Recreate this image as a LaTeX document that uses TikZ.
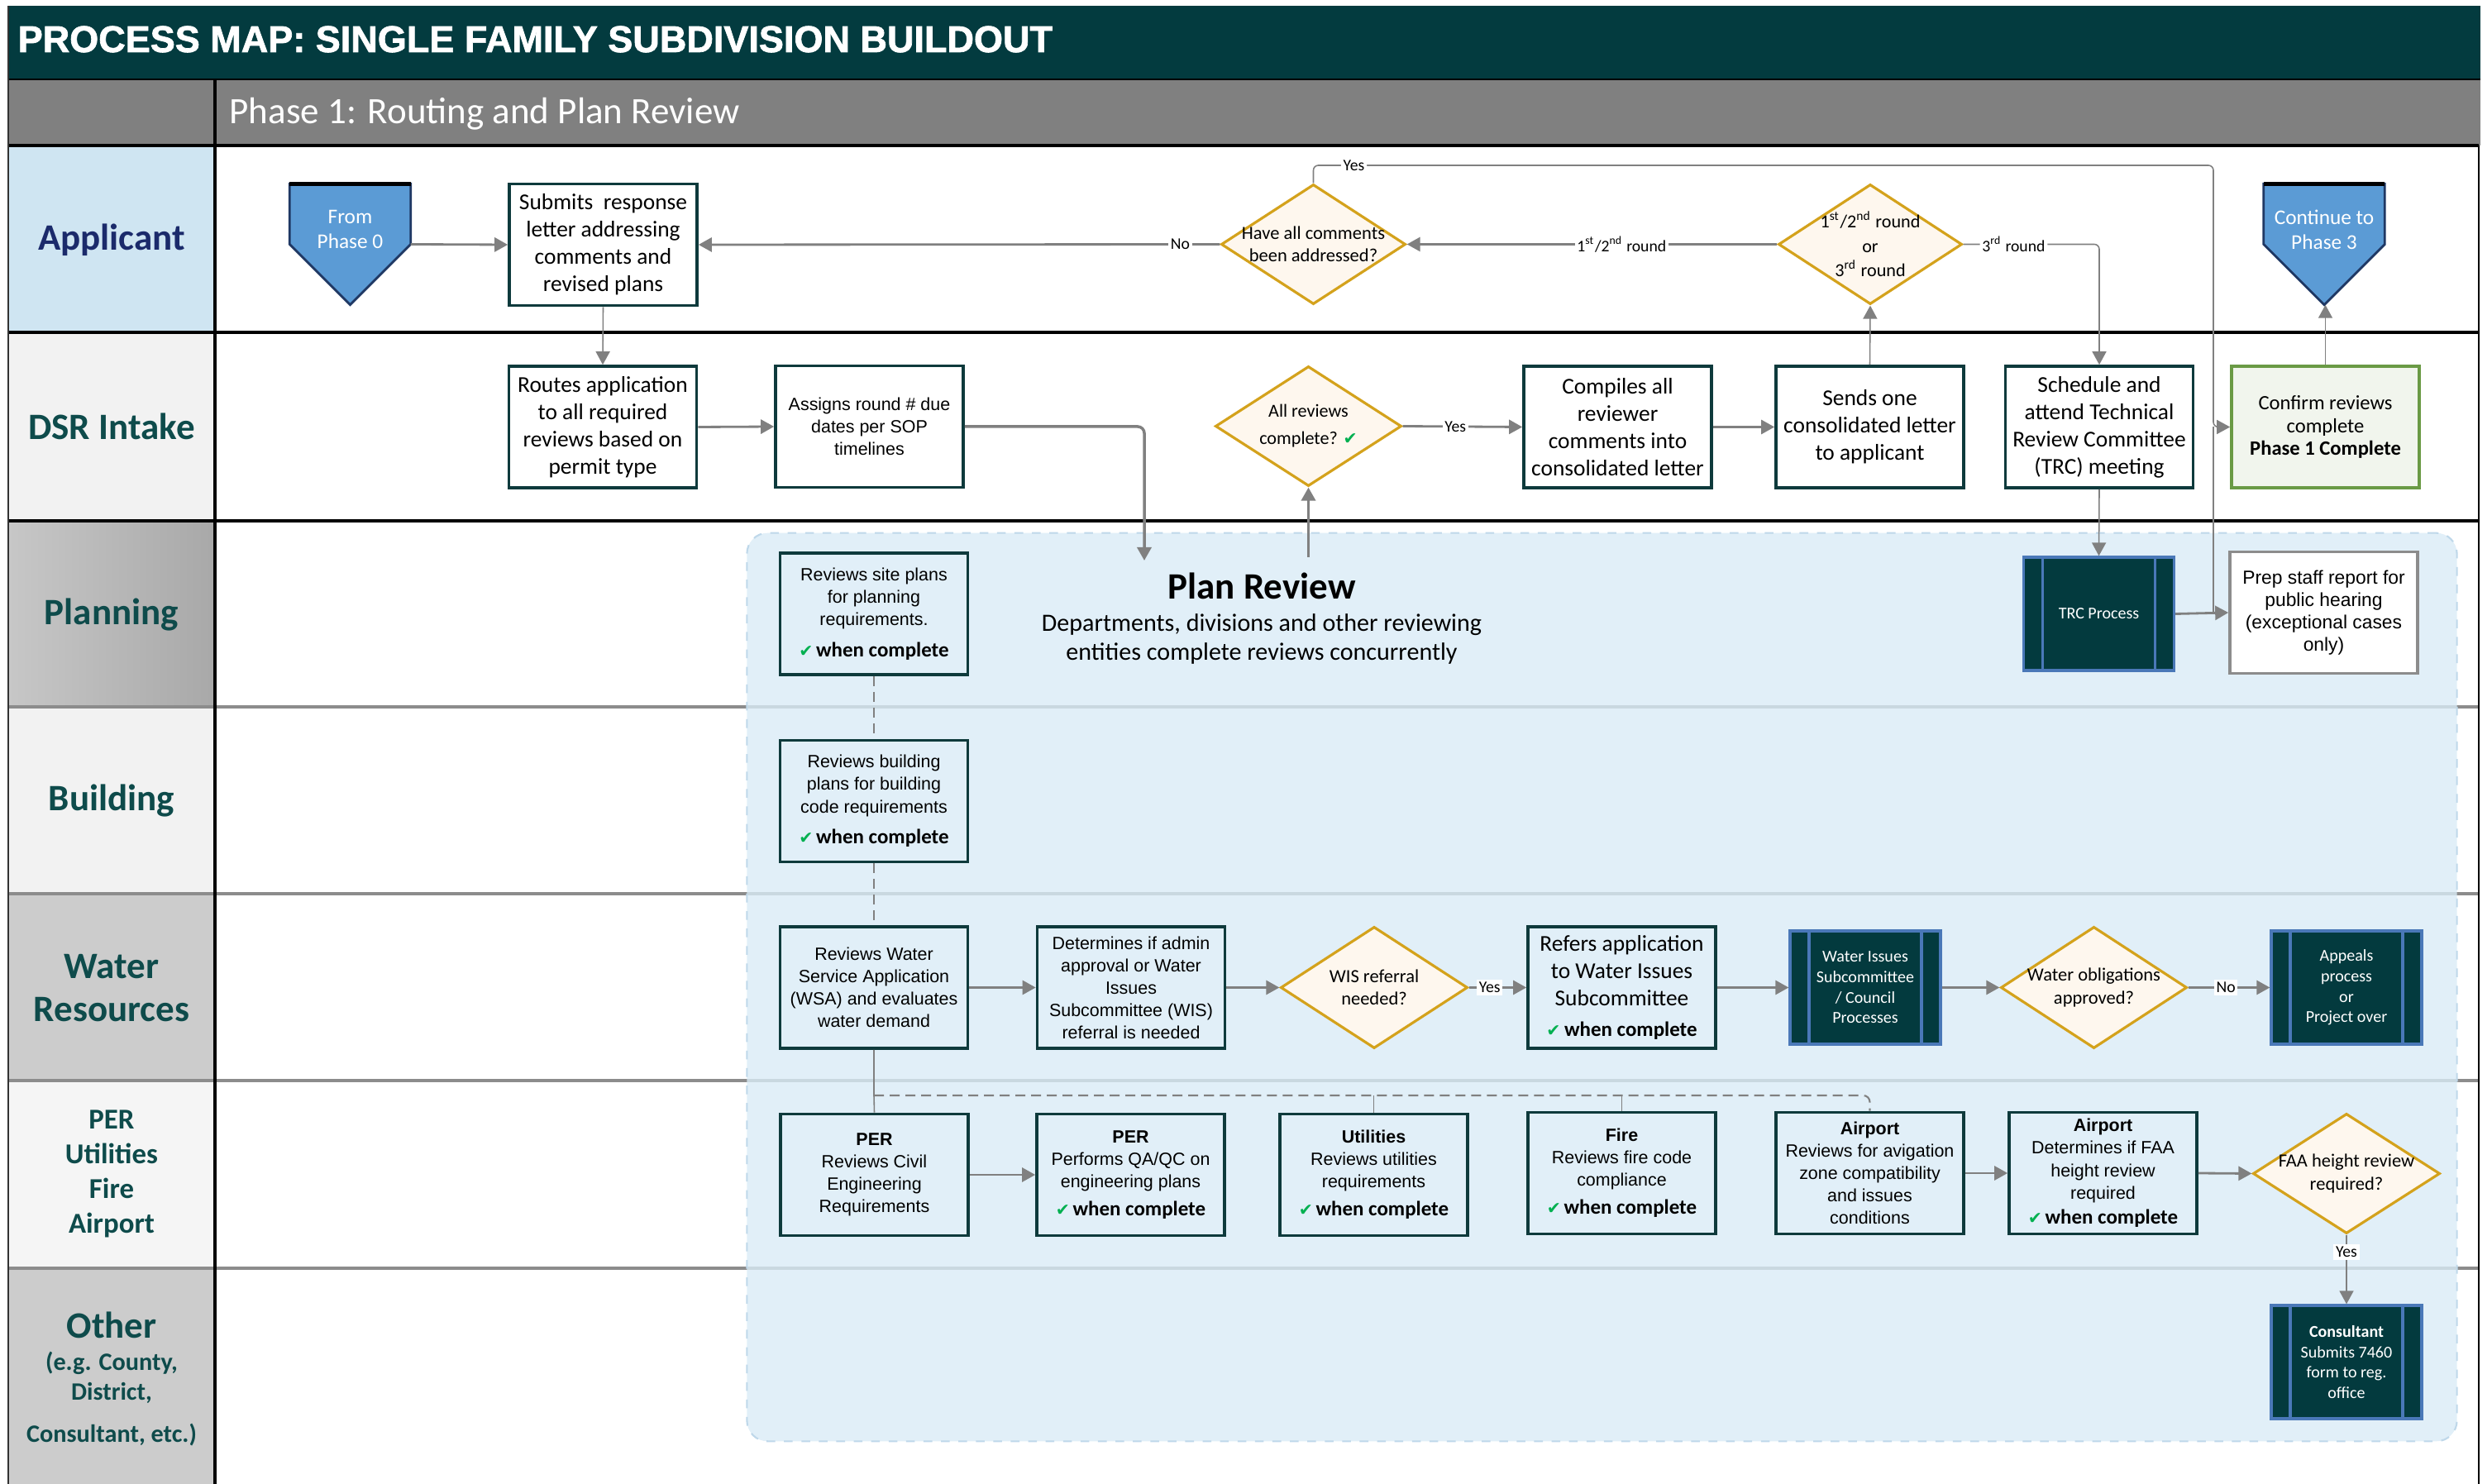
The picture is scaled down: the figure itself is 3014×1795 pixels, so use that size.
\documentclass[tikz,border=0pt]{standalone}
\usepackage{fontspec}
\setmainfont{Carlito}
\newfontfamily\arialf{Liberation Sans}
\newfontfamily\titlef{Liberation Sans}[BoldFeatures={FakeBold=1.6}]
\newfontfamily\symf{DejaVu Sans}
\usetikzlibrary{shapes.geometric,arrows.meta,calc}

\definecolor{titlebg}{HTML}{033B3F}
\definecolor{phasebg}{HTML}{808080}
\definecolor{applbg}{HTML}{CFE5F2}
\definecolor{lightcell}{HTML}{F2F2F2}
\definecolor{palecell}{HTML}{F5F5F5}
\definecolor{midcell}{HTML}{CCCCCC}
\definecolor{navytxt}{HTML}{1B2A6B}
\definecolor{lanetxt}{HTML}{0E4B4B}
\definecolor{boxline}{HTML}{0E3A3C}
\definecolor{conncol}{HTML}{808080}
\definecolor{decline}{HTML}{D4A21C}
\definecolor{decfill}{HTML}{FEF7EE}
\definecolor{subfill}{HTML}{033A3E}
\definecolor{subline}{HTML}{4A78B8}
\definecolor{penfill}{HTML}{5B9BD5}
\definecolor{penline}{HTML}{1F3864}
\definecolor{okgreen}{HTML}{00B050}
\definecolor{donefill}{HTML}{F1F5ED}
\definecolor{doneline}{HTML}{6A9A45}
\definecolor{regionfill}{HTML}{D9EBF6}
\definecolor{regionline}{HTML}{BFD8EA}
\definecolor{laneline}{HTML}{8C8C8C}
\definecolor{prepline}{HTML}{8C8C8C}

% green tick
\newcommand\greentick{{\symf\color{okgreen}\fontsize{5.8}{6}\selectfont ✔}}
% tick + bold "when complete"
\newcommand\whendone{\greentick\,{\rmfamily\bfseries\fontsize{7.1}{8}\selectfont when complete}}

\tikzset{
  proc/.style={draw=boxline, line width=1pt, fill=white, minimum width=2.27cm,
    minimum height=1.47cm, align=center, inner sep=1pt,
    font=\fontsize{7.8}{9.4}\selectfont},
  procin/.style={proc, fill=none},
  procar/.style={procin, font=\arialf\fontsize{6.1}{7.7}\selectfont},
  dec/.style={diamond, draw=decline, fill=decfill, line width=0.9pt,
    minimum width=2.25cm, minimum height=1.46cm, inner sep=0pt},
  dectext/.style={align=center, inner sep=0pt, font=\fontsize{6.4}{7.7}\selectfont},
  subp/.style={draw=subline, fill=subfill, line width=0.9pt, minimum width=1.82cm,
    minimum height=1.37cm, text=white, align=center, inner sep=1pt,
    font=\fontsize{5.7}{7}\selectfont,
    path picture={\draw[subline, line width=0.9pt]
      ([xshift=0.23cm]path picture bounding box.north west) --
      ([xshift=0.23cm]path picture bounding box.south west)
      ([xshift=-0.23cm]path picture bounding box.north east) --
      ([xshift=-0.23cm]path picture bounding box.south east);}},
  pentbox/.style={minimum width=1.45cm, minimum height=1.45cm, inner sep=0pt},
  pentshape/.style={fill=penfill, draw=penline, line width=0.8pt, line join=miter},
  pentext/.style={text=white, align=center, inner sep=0pt, font=\fontsize{7.2}{8.6}\selectfont},
  flow/.style={draw=conncol, line width=0.8pt, -{Triangle[length=0.16cm,width=0.17cm]}},
  flowthin/.style={draw=conncol, line width=0.45pt, -{Triangle[length=0.16cm,width=0.17cm]}},
  plainlink/.style={draw=conncol, line width=0.45pt},
  dashlink/.style={draw=conncol, line width=0.6pt, dash pattern=on 0.12cm off 0.07cm},
  lbl/.style={fill=white, inner sep=0.8pt, font=\fontsize{5.6}{6}\selectfont},
  lanelbl/.style={text=lanetxt, align=center, inner sep=0pt,
    font=\bfseries\fontsize{12.8}{15}\selectfont},
  region/.style={draw=regionline, fill=regionfill, fill opacity=0.8, dashed,
    line width=0.6pt, rounded corners=0.25cm, inner sep=0pt},
}

\begin{document}
\begin{tikzpicture}[x=0.01cm, y=-0.01cm]
\useasboundingbox (0,0) rectangle (3014,1795);

% ---------- header bands ----------
\fill[titlebg] (10,7) rectangle (3000,96);
\fill[phasebg] (10,96) rectangle (3000,176);
\draw[black, line width=0.8pt] (10,96) -- (3000,96);
\node[anchor=base west, text=white, inner sep=0pt,
  font=\titlef\bfseries\fontsize{12.8}{14}\selectfont] (title) at (21,63)
  {PROCESS MAP: SINGLE FAMILY SUBDIVISION BUILDOUT};
\node[anchor=base west, text=white, inner sep=0pt,
  font=\fontsize{12.8}{14}\selectfont] (phase) at (277,150)
  {Phase 1: Routing and Plan Review};

% ---------- lane label cells ----------
\fill[applbg] (10,176) rectangle (260,402);
\fill[lightcell] (10,402) rectangle (260,630);
\shade[left color=black!22, right color=black!34] (10,630) rectangle (260,855);
\fill[lightcell] (10,855) rectangle (260,1081);
\fill[midcell] (10,1081) rectangle (260,1307);
\fill[palecell] (10,1307) rectangle (260,1534);
\fill[midcell] (10,1534) rectangle (260,1795);

% ---------- lane separators ----------
\foreach \yy in {855,1081,1307,1534}
  \draw[laneline, line width=1.1pt] (10,\yy) -- (2998,\yy);
\foreach \yy in {176,402,630}
  \draw[black, line width=1.1pt] (10,\yy) -- (2998,\yy);
\draw[black, line width=0.9pt] (260,96) -- (260,1795);
\draw[black!80, line width=0.8pt] (10,7) -- (10,1795);
\draw[black, line width=0.6pt] (2998,176) -- (2998,1795);

% ---------- lane labels ----------
\node[lanelbl, text=navytxt] (lApp) at (135,290) {Applicant};
\node[lanelbl] (lDSR) at (135,516) {DSR Intake};
\node[lanelbl] (lPlan) at (135,744) {Planning};
\node[lanelbl] (lBld) at (135,969) {Building};
\node[lanelbl] (lWat) at (135,1195) {Water\\Resources};
\node[lanelbl, font=\bfseries\fontsize{9.9}{12}\selectfont] (lPer) at (135,1420)
  {PER\\Utilities\\Fire\\Airport};
\node[lanelbl] (lOth) at (135,1603) {Other};
\node[lanelbl, font=\bfseries\fontsize{8.6}{10}\selectfont] (lOth2) at (135,1692)
  {(e.g. County,\\District,\\[4.5pt]Consultant, etc.)};

% ---------- concurrent plan review area ----------
\node[region, minimum width=20.67cm, minimum height=10.98cm] (region) at (1937.5,1194) {};
\node[inner sep=0pt, font=\bfseries\fontsize{12.8}{14}\selectfont] (prTitle) at (1526,709) {Plan Review};
\node[inner sep=0pt, align=center, font=\fontsize{8.55}{10.2}\selectfont] (prSub) at (1526,773)
  {Departments, divisions and other reviewing\\entities complete reviews concurrently};

% ---------- Applicant lane ----------
\node[pentbox] (from0) at (423.5,295.5) {};
\filldraw[pentshape] (from0.north west) -- (from0.north east) -- (from0.east) -- (from0.south) -- (from0.west) -- cycle;
\draw[black, line width=1.3pt] (from0.north west) -- (from0.north east);
\node[pentext] (from0t) at ($(from0)+(0,-18)$) {From\\Phase 0};

\node[proc] (submits) at (729.5,296) {Submits~ response\\letter addressing\\comments and\\revised plans};

\node[dec, minimum width=2.23cm, minimum height=1.45cm] (have) at (1588.5,295.5) {};
\node[dectext] (havet) at (have) {Have all comments\\been addressed?};

\node[dec, minimum width=2.22cm, minimum height=1.45cm] (round) at (2262,295.5) {};
\node[dectext, font=\fontsize{6.3}{8.4}\selectfont] (roundt) at (round)
  {1\textsuperscript{st}/2\textsuperscript{nd} round\\or\\3\textsuperscript{rd} round};

\node[pentbox] (cont3) at (2811,295.5) {};
\filldraw[pentshape] (cont3.north west) -- (cont3.north east) -- (cont3.east) -- (cont3.south) -- (cont3.west) -- cycle;
\draw[black, line width=1.3pt] (cont3.north west) -- (cont3.north east);
\node[pentext] (cont3t) at ($(cont3)+(0,-18)$) {Continue to\\Phase 3};

% ---------- DSR Intake lane ----------
\node[proc] (routes) at (729,516.5) {Routes application\\to all required\\reviews based on\\permit type};
\node[proc, font=\arialf\fontsize{6.1}{7.7}\selectfont] (assigns) at (1051.5,516) {Assigns round \# due\\dates per SOP\\timelines};
\node[dec, minimum width=2.25cm, minimum height=1.45cm] (allrev) at (1582.5,515.5) {};
\node[dectext, font=\fontsize{6.3}{9.4}\selectfont] (allrevt) at (allrev)
  {All reviews\\complete? \greentick};
\node[proc] (compiles) at (1956.5,516.5) {Compiles all\\reviewer\\comments into\\consolidated letter};
\node[proc] (sends) at (2261.5,516.5) {Sends one\\consolidated letter\\to applicant};
\node[proc] (schedule) at (2539,516.5) {Schedule and\\attend Technical\\Review Committee\\(TRC) meeting};
\node[proc, draw=doneline, fill=donefill, font=\fontsize{7}{7.7}\selectfont] (confirm) at (2812.5,516.5)
  {Confirm reviews\\complete\\\textbf{Phase 1 Complete}};

% ---------- Planning lane ----------
\node[procar] (sitepl) at (1057,742.5) {Reviews site plans\\for planning\\requirements.\\[3pt]\whendone};
\node[subp] (trc) at (2538.5,742.5) {TRC Process};
\node[proc, draw=prepline, font=\arialf\fontsize{6.5}{7.7}\selectfont] (prep) at (2810.5,741)
  {Prep staff report for\\public hearing\\(exceptional cases\\only)};

% ---------- Building lane ----------
\node[procar] (bldg) at (1057,969) {Reviews building\\plans for building\\code requirements\\[3pt]\whendone};

% ---------- Water Resources lane ----------
\node[procar] (wsa) at (1057,1194.5) {Reviews Water\\Service Application\\(WSA) and evaluates\\water demand};
\node[procar] (det) at (1368,1194.5) {Determines if admin\\approval or Water\\Issues\\Subcommittee (WIS)\\referral is needed};
\node[dec, minimum width=2.26cm, minimum height=1.47cm] (wis) at (1662,1194.5) {};
\node[dectext] (wist) at (wis) {WIS referral\\needed?};
\node[procin] (refers) at (1961.5,1194.5) {Refers application\\to Water Issues\\Subcommittee\\[1pt]\whendone};
\node[subp] (wissub) at (2256,1194.5) {Water Issues\\Subcommittee\\/ Council\\Processes};
\node[dec, minimum width=2.25cm, minimum height=1.47cm] (wob) at (2532.5,1194.5) {};
\node[dectext] (wobt) at (wob) {Water obligations\\approved?};
\node[subp] (appeals) at (2838,1194.5) {Appeals\\process\\or\\Project over};

% ---------- PER / Utilities / Fire / Airport lane ----------
\node[procar] (per1) at (1057.5,1421) {\textbf{PER}\\Reviews Civil\\Engineering\\Requirements};
\node[procar] (per2) at (1367.5,1421) {\textbf{PER}\\Performs QA/QC on\\engineering plans\\[2pt]\whendone};
\node[procar] (util) at (1661.5,1421) {\textbf{Utilities}\\Reviews utilities\\requirements\\[2pt]\whendone};
\node[procar] (fire) at (1961.5,1419) {\textbf{Fire}\\Reviews fire code\\compliance\\[2pt]\whendone};
\node[procar] (air1) at (2261.5,1419) {\textbf{Airport}\\Reviews for avigation\\zone compatibility\\and issues\\conditions};
\node[procar] (air2) at (2543.5,1419) {\textbf{Airport}\\Determines if FAA\\height review\\required\\[1pt]\whendone};
\node[dec, minimum width=2.26cm, minimum height=1.45cm] (faa) at (2838,1419.5) {};
\node[dectext] (faat) at (faa) {FAA height review\\required?};

% ---------- Other lane ----------
\node[subp] (consult) at (2838,1647.5) {\textbf{Consultant}\\Submits 7460\\form to reg.\\office};

% ---------- connectors ----------
\coordinate (prIn) at (1384,678);
\coordinate (prOut) at (1582.5,674);
\coordinate (yesDrop) at (2677,200);
\coordinate (bus) at (1057,1325);

\draw[flow] (from0.east) -- (submits.west);
\draw[flow] (have.west) -- node[lbl, pos=0.076] {No} (submits.east);
\draw[flow] (round.west) -- node[lbl, pos=0.42] {1\textsuperscript{st}/2\textsuperscript{nd} round} (have.east);
\draw[flowthin, rounded corners=0.06cm] (round.east) -- node[lbl, pos=0.37] {3\textsuperscript{rd} round}
  (round.east -| schedule.north) -- (schedule.north);
\draw[flowthin, rounded corners=0.06cm] (have.north) -- (have.north |- yesDrop)
  -- node[lbl, pos=0.045] {Yes} (yesDrop) -- (yesDrop |- confirm.west) -- (confirm.west);
\draw[plainlink] (yesDrop |- confirm.west) -- (yesDrop |- prep.west);

\draw[flowthin] (submits.south) -- (routes.north);
\draw[flow] (routes.east) -- (assigns.west);
\draw[flow, line width=1pt, rounded corners=0.08cm] (assigns.east) -| (prIn);
\draw[flow, line width=1pt] (prOut) -- (allrev.south);
\draw[flow] (allrev.east) -- node[lbl, pos=0.44] {Yes} (compiles.west);
\draw[flow] (compiles.east) -- (sends.west);
\draw[flowthin] (sends.north) -- (round.south);
\draw[flowthin] (confirm.north) -- (confirm.north |- cont3.south);
\draw[flowthin] (schedule.south) -- (trc.north);
\draw[flow] (trc.east) -- (prep.west);

\draw[flow] (wsa.east) -- (det.west);
\draw[flow] (det.east) -- (wis.west);
\draw[flow] (wis.east) -- node[lbl, pos=0.36] {Yes} (refers.west);
\draw[flow] (refers.east) -- (wissub.west);
\draw[flow] (wissub.east) -- (wob.west);
\draw[flow] (wob.east) -- node[lbl, pos=0.46] {No} (appeals.west);

\draw[flow] (per1.east) -- (per2.west);
\draw[flow] (air1.east) -- (air2.west);
\draw[flow] (air2.east) -- (faa.west);
\draw[flowthin] (faa.south) -- node[lbl, pos=0.25] {Yes} (consult.north);

% links between the concurrent reviews
\draw[dashlink] (sitepl.south) -- (bldg.north);
\draw[dashlink] (bldg.south) -- (wsa.north);
\draw[plainlink] (wsa.south) -- (bus) -- (per1.north);
\draw[dashlink, rounded corners=0.08cm] (bus) -- (bus -| air1.north) -- (air1.north);
\draw[plainlink] (bus -| util.north) -- (util.north);
\draw[plainlink] (bus -| fire.north) -- (fire.north);

\end{tikzpicture}
\end{document}
